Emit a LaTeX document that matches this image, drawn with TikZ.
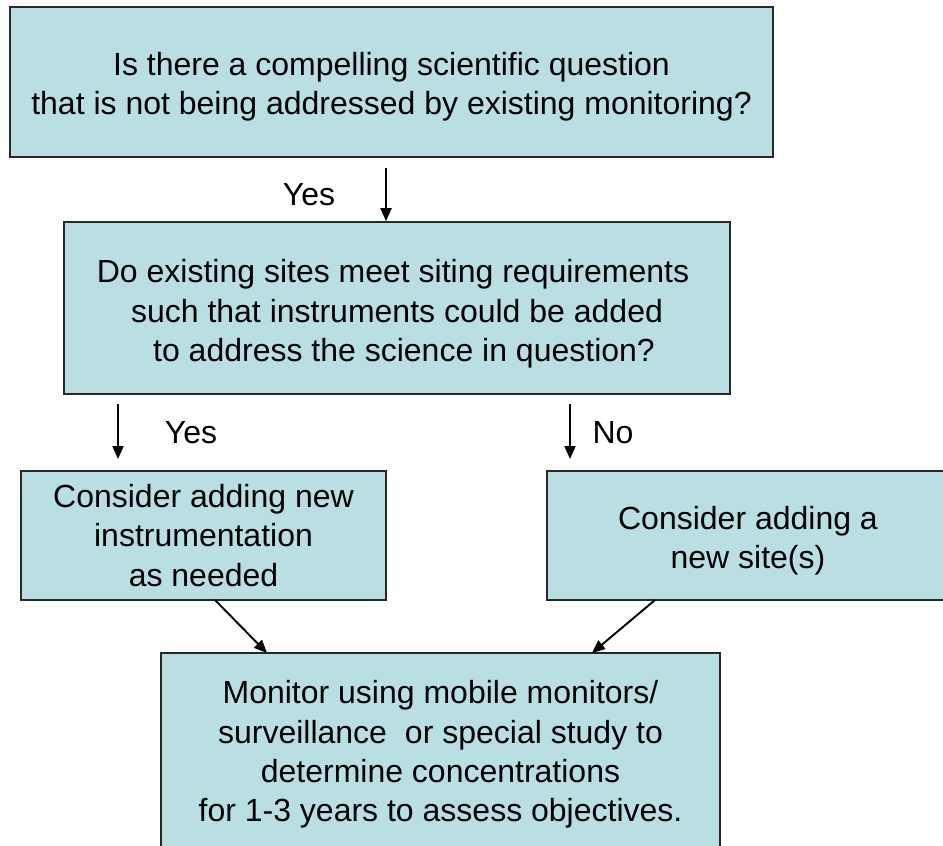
\documentclass[tikz,border=0pt]{standalone}
\usepackage{fontspec}
\setmainfont{Liberation Sans}
\usetikzlibrary{arrows.meta}
\definecolor{boxfill}{RGB}{186,223,226}
\definecolor{boxline}{RGB}{40,40,40}
\tikzset{
  box/.style={draw=boxline, line width=1.6pt, fill=boxfill, inner sep=0pt},
  txt/.style={inner sep=0pt, align=center, font=\fontsize{32}{39.3}\selectfont},
  lbl/.style={inner sep=0pt, font=\fontsize{32}{39.3}\selectfont},
  arr/.style={line width=1.9pt, -{Triangle[length=13pt,width=11pt]}}
}
\begin{document}
\begin{tikzpicture}[x=1pt,y=-1pt]
\useasboundingbox (0,0) rectangle (943,846);
\clip (0,0) rectangle (943,846);
\node[box, minimum width=763, minimum height=150] (b1) at (391.5,82) {};
\node[box, minimum width=666, minimum height=172] (b2) at (397,308) {};
\node[box, minimum width=365, minimum height=129] (b3) at (203.5,535.5) {};
\node[box, minimum width=402, minimum height=129] (b4) at (748,535.5) {};
\node[box, minimum width=559, minimum height=196] (b5) at (440.5,751) {};
\node[txt] (t1) at ([yshift=-5pt]b1.center)
  {Is there a compelling scientific question\\that is not being addressed by existing monitoring?};
\node[txt] (t2) at ([yshift=-6pt]b2.center)
  {Do existing sites meet siting requirements\hspace*{8pt}\\such that instruments could be added\\\hspace*{14pt}to address the science in question?};
\node[txt] (t3) at (b3.center)
  {Consider adding new\\instrumentation\\as needed};
\node[txt] (t4) at ([yshift=-5pt]b4.center)
  {Consider adding a\\new site(s)};
\node[txt] (t5) at ([yshift=-3.5pt]b5.center)
  {Monitor using mobile monitors/\\surveillance\hspace*{18pt}or special study to\\determine concentrations\\for 1-3 years to assess objectives.};
\node[lbl] (y1) at (309,195) {Yes};
\node[lbl] (y2) at (191,433) {Yes};
\node[lbl] (n1) at (613,433) {No};
\coordinate (a1s) at (386,168);
\coordinate (a2s) at (118,404);
\coordinate (a2e) at (118,459);
\coordinate (a3s) at (570,404);
\coordinate (a3e) at (570,459);
\coordinate (d1s) at (215,600);
\coordinate (d1e) at (267,653);
\coordinate (d2s) at (655,600);
\coordinate (d2e) at (592,653);
\draw[arr] (a1s) -- (a1s |- b2.north);
\draw[arr] (a2s) -- (a2e);
\draw[arr] (a3s) -- (a3e);
\draw[arr] (d1s) -- (d1e);
\draw[arr] (d2s) -- (d2e);
\end{tikzpicture}
\end{document}
